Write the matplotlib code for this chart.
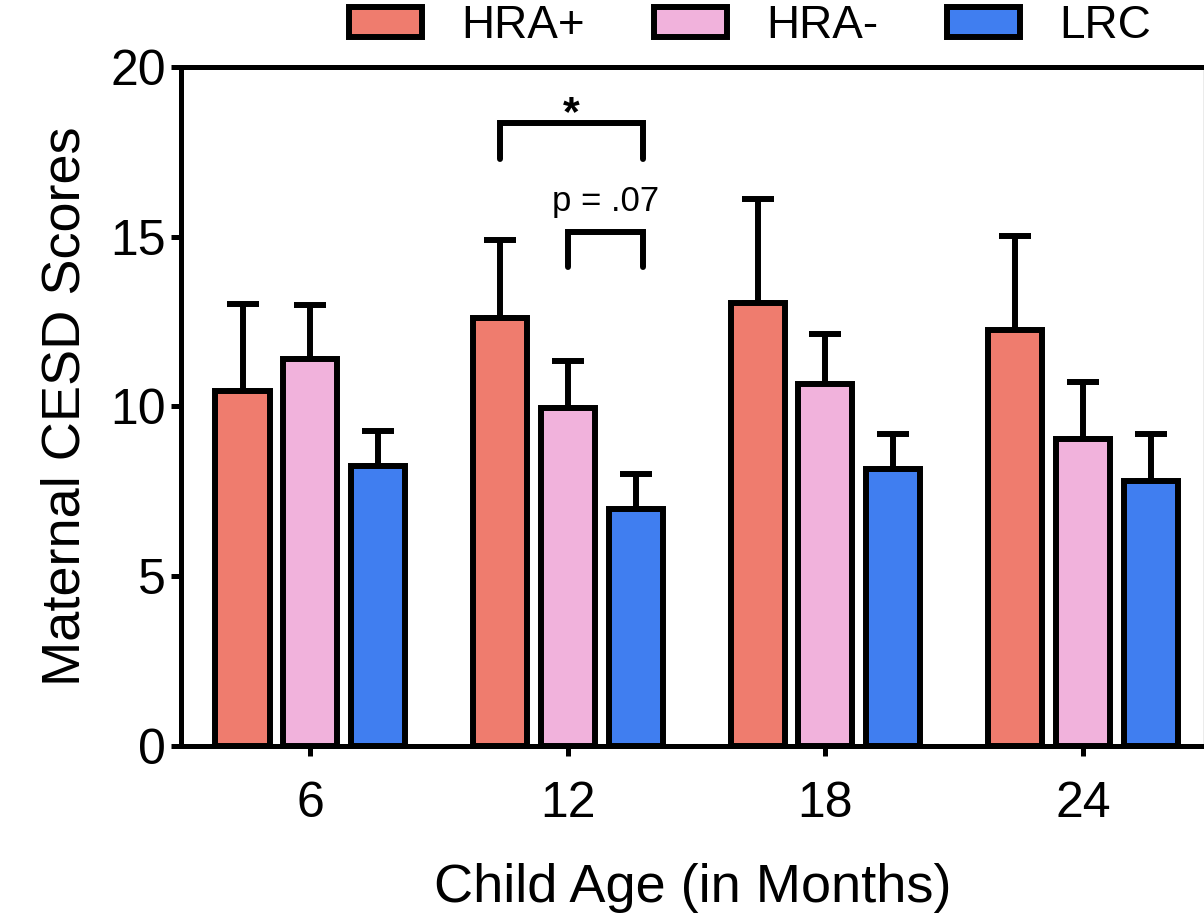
import numpy as np
import matplotlib.pyplot as plt

plt.rcParams['font.family'] = ['Liberation Sans', 'DejaVu Sans']

# data
ages = ['6', '12', '18', '24']
groups = ['HRA+', 'HRA-', 'LRC']
hra_pos = [10.45, 12.6, 13.05, 12.25]
hra_pos_err = [2.57, 2.3, 3.05, 2.77]
hra_neg = [11.4, 9.95, 10.65, 9.05]
hra_neg_err = [1.6, 1.4, 1.48, 1.67]
lrc = [8.25, 6.97, 8.15, 7.8]
lrc_err = [1.04, 1.05, 1.04, 1.39]
colors = ['#EF7C6E', '#F1B2DC', '#407EF0']

means = [hra_pos, hra_neg, lrc]
errs = [hra_pos_err, hra_neg_err, lrc_err]

fig = plt.figure(figsize=(12.04, 9.23), dpi=100)
ax = fig.add_axes([0.1503, 0.1918, 0.8497, 0.7356])

x = np.arange(len(ages))
offset = 0.263
width = 0.21
lw = 4.3

for i in range(3):
    pos = x + (i - 1) * offset
    ax.errorbar(pos, means[i], yerr=[np.zeros(4), errs[i]], fmt='none',
                ecolor='black', elinewidth=lw, capsize=11.5, capthick=lw, zorder=2)
    ax.bar(pos, means[i], width=width, color=colors[i], edgecolor='black',
           linewidth=lw, label=groups[i], zorder=3)

# significance brackets at 12 months
g = 1
def bracket(x0, x1, ytop, ybot):
    ax.plot([x0, x0, x1, x1], [ybot, ytop, ytop, ybot], color='black', lw=lw,
            solid_capstyle='round', solid_joinstyle='miter', zorder=4, clip_on=False)

bracket(g - offset, g + 0.292, 18.35, 17.3)
ax.text(g + 0.015, 18.3, '*', ha='center', va='baseline', fontsize=31, fontweight='bold')
bracket(g, g + 0.292, 15.15, 14.12)
ax.text(g + 0.145, 15.55, 'p = .07', ha='center', va='bottom', fontsize=25)

ax.set_xlim(-0.502, 3.47)
ax.set_ylim(0, 20)
ax.set_yticks([0, 5, 10, 15, 20])
ax.set_xticks(x)
ax.set_xticklabels(ages)

for s in ['left', 'bottom', 'top']:
    ax.spines[s].set_linewidth(3.6)
    ax.spines[s].set_color('black')
ax.spines['right'].set_linewidth(1)
ax.spines['right'].set_color('#9a9a9a')

ax.tick_params(axis='y', length=7, width=3.6, labelsize=36, pad=4)
ax.tick_params(axis='x', length=7, width=3.6, labelsize=36, pad=18)
ax.tick_params(top=False, right=False)

ax.set_xlabel('Child Age (in Months)', fontsize=39, labelpad=26)
ax.set_ylabel('Maternal CESD Scores', fontsize=39, labelpad=14)

leg = ax.legend(loc='center', bbox_to_anchor=(750 / 1204, 1 - 26 / 923),
                bbox_transform=fig.transFigure, ncol=3, frameon=False, fontsize=33,
                handlelength=1.6, handleheight=0.62, handletextpad=0.85,
                columnspacing=1.5, borderaxespad=0)

fig.savefig('out.png', dpi=100)
